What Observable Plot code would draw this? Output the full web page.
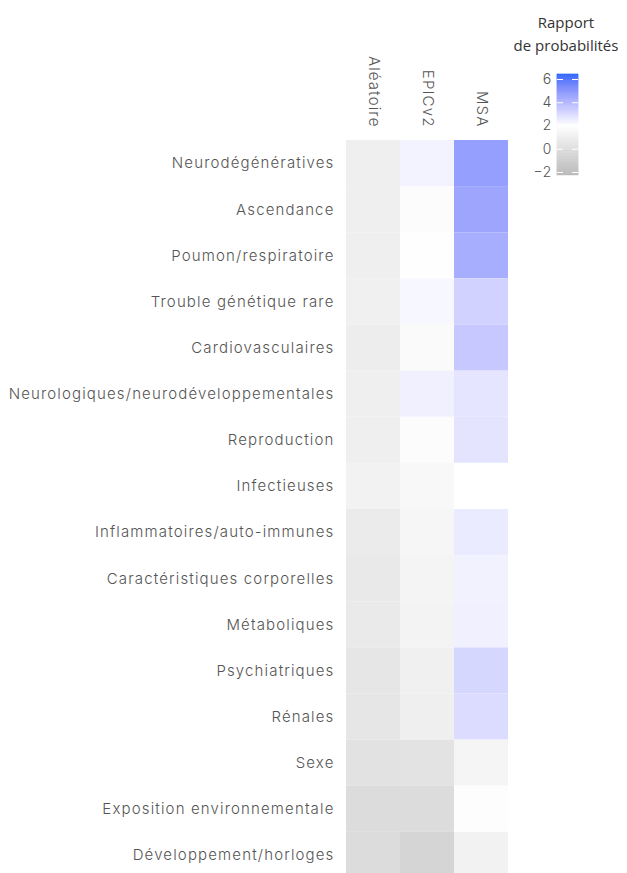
<!DOCTYPE html>
<html><head><meta charset="utf-8">
<script src="https://cdn.jsdelivr.net/npm/d3@7"></script>
<script src="https://cdn.jsdelivr.net/npm/@observablehq/plot@0.6"></script>
<style>
body{margin:0;background:#fff;overflow:hidden;}
#wrap{position:relative;width:627px;height:873px;overflow:hidden;}
#chart{position:absolute;left:0;top:0;}
#legtitle{position:absolute;left:506px;top:11px;width:120px;text-align:center;font-family:"Open Sans",sans-serif;font-size:15px;line-height:23px;color:#333;}
#legend{position:absolute;left:520px;top:64px;}
</style></head><body>
<div id="wrap"><div id="chart"></div><div id="legtitle">Rapport<br>de probabilités</div><div id="legend"></div></div>
<script>
const methods = ["Aléatoire", "EPICv2", "MSA"];
const categories = [
  "Neurodégénératives", "Ascendance", "Poumon/respiratoire", "Trouble génétique rare",
  "Cardiovasculaires", "Neurologiques/neurodéveloppementales", "Reproduction", "Infectieuses",
  "Inflammatoires/auto-immunes", "Caractéristiques corporelles", "Métaboliques", "Psychiatriques",
  "Rénales", "Sexe", "Exposition environnementale", "Développement/horloges"
];
const aleatoire = [1.04, 1.04, 1.04, 1.10, 0.92, 1.04, 1.04, 1.22, 0.79, 0.67, 0.73, 0.49, 0.49, 0.24, -0.12, -0.12];
const epicv2    = [2.33, 1.79, 1.97, 2.23, 1.72, 2.42, 1.79, 1.60, 1.46, 1.34, 1.28, 1.10, 1.04, 0.30, -0.12, -0.56];
const msa       = [4.75, 4.56, 4.31, 3.25, 3.55, 2.72, 2.76, 2.00, 2.56, 2.36, 2.41, 3.12, 2.98, 1.40, 1.86, 1.22];
const legendTicks = [-2, 0, 2, 4, 6];
const legendLimits = [-2.26, 6.43];
const colorStops = [-2, 2, 6];
const colorRange = ["#bebebe", "#ffffff", "#5577fa"];

const series = [aleatoire, epicv2, msa];
const data = categories.flatMap((c, i) => methods.map((m, j) => ({category: c, method: m, value: series[j][i]})));
const colorOpts = {type: "linear", domain: colorStops, range: colorRange, interpolate: "lab"};

const chart = Plot.plot({
  width: 627, height: 878,
  marginLeft: 346, marginRight: 119, marginTop: 140, marginBottom: 0,
  style: {fontFamily: "Inter, sans-serif", fontSize: "15px", color: "#555", fontWeight: 300, letterSpacing: "1.15px", background: "transparent"},
  x: {domain: methods, padding: 0, round: false, label: null},
  y: {domain: categories, padding: 0, round: false, label: null},
  color: colorOpts,
  marks: [
    Plot.cell(data, {x: "method", y: "category", fill: "value"}),
    Plot.axisX({anchor: "top", tickRotate: 90, tickSize: 0, tickPadding: 13, label: null}),
    Plot.axisY({anchor: "left", tickSize: 0, tickPadding: 12, label: null})
  ]
});
document.getElementById("chart").appendChild(chart);

const step = 0.04;
const steps = d3.range(legendLimits[0], legendLimits[1], step);
const legend = Plot.plot({
  width: 80, height: 120,
  marginLeft: 37, marginRight: 22, marginTop: 10, marginBottom: 9,
  style: {fontFamily: "Inter, sans-serif", fontSize: "14px", color: "#555", fontWeight: 300, background: "transparent"},
  y: {domain: legendLimits, ticks: legendTicks, label: null},
  color: colorOpts,
  marks: [
    Plot.rect(steps, {y1: d => d, y2: d => Math.min(d + step, legendLimits[1]), fill: d => d + step / 2, stroke: d => d + step / 2, strokeWidth: 0.5}),
    Plot.tickY(legendTicks, {y: d => d, stroke: "white", insetRight: 15}),
    Plot.tickY(legendTicks, {y: d => d, stroke: "white", insetLeft: 15}),
    Plot.axisY({anchor: "left", ticks: legendTicks, tickSize: 0, tickPadding: 6, label: null})
  ]
});
document.getElementById("legend").appendChild(legend);
</script>
</body></html>
